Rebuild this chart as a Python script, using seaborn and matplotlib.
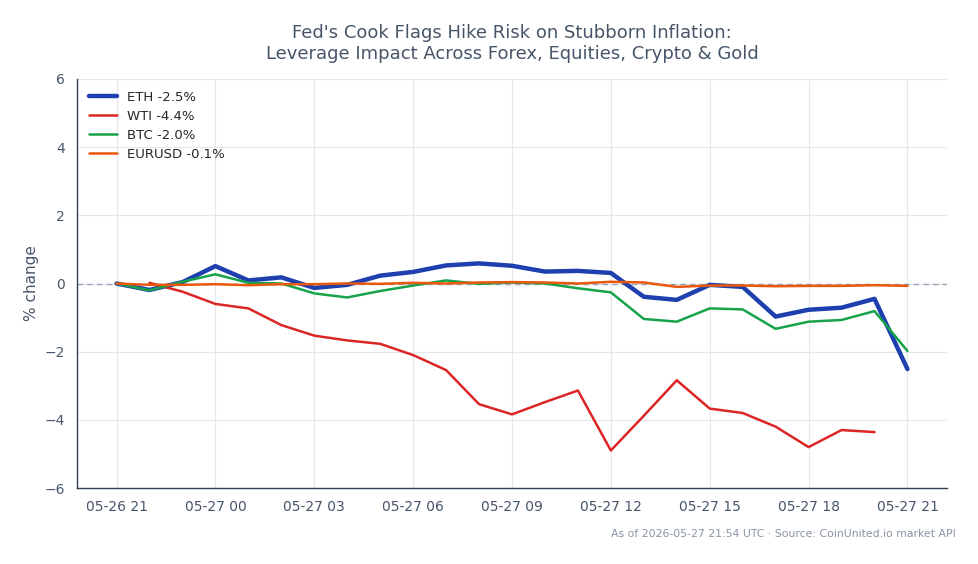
import numpy as np
import pandas as pd
import matplotlib
matplotlib.use("Agg")
import matplotlib.pyplot as plt
import matplotlib.dates as mdates
import seaborn as sns

times = pd.date_range("2026-05-26 21:00", "2026-05-27 21:00", freq="h")

eth = [0.0, -0.19, 0.04, 0.51, 0.09, 0.18, -0.13, -0.04, 0.23, 0.34, 0.53, 0.59,
       0.52, 0.35, 0.37, 0.31, -0.39, -0.48, -0.04, -0.10, -0.97, -0.77, -0.71, -0.45, -2.51]
wti = [np.nan, 0.02, -0.24, -0.60, -0.73, -1.22, -1.53, -1.67, -1.77, -2.10, -2.54, -3.54,
       -3.84, -3.48, -3.14, -4.90, -3.88, -2.84, -3.67, -3.80, -4.20, -4.80, -4.30, -4.36, np.nan]
btc = [0.0, -0.20, 0.05, 0.27, 0.02, 0.0, -0.29, -0.41, -0.22, -0.06, 0.09, -0.01,
       0.03, 0.0, -0.14, -0.26, -1.04, -1.12, -0.73, -0.76, -1.33, -1.12, -1.07, -0.81, -1.98]
eurusd = [0.0, -0.04, -0.04, -0.02, -0.05, -0.02, -0.02, 0.0, -0.01, 0.02, 0.0, 0.03,
          0.04, 0.03, 0.0, 0.05, 0.03, -0.10, -0.06, -0.06, -0.08, -0.07, -0.07, -0.05, -0.07]

series = [
    ("ETH -2.5%", eth, "#1e40af", 3.2),
    ("WTI -4.4%", wti, "#dc2626", 1.8),
    ("BTC -2.0%", btc, "#16a34a", 1.8),
    ("EURUSD -0.1%", eurusd, "#ea580c", 1.8),
]

sns.set_style("white")
plt.rcParams["font.family"] = ["DejaVu Sans"]

fig = plt.figure(figsize=(9.79, 5.64), dpi=100)
ax = fig.add_axes([77 / 979, 1 - 488 / 564, (947 - 77) / 979, (488 - 79) / 564])

text_color = "#475569"
ax.axhline(0, color="#94a3b8", lw=1.0, ls=(0, (4, 3)), zorder=1)

for label, vals, color, lw in series:
    df = pd.DataFrame({"t": times, "v": vals})
    sns.lineplot(data=df, x="t", y="v", ax=ax, color=color, lw=lw, label=label, zorder=3)

ax.set_ylim(-6, 6)
ax.set_yticks([-6, -4, -2, 0, 2, 4, 6])
ax.set_yticklabels(["\u22126", "\u22124", "\u22122", "0", "2", "4", "6"])
pad = pd.Timedelta(hours=1.2)
ax.set_xlim(times[0] - pad, times[-1] + pad)
ax.xaxis.set_major_locator(mdates.HourLocator(byhour=range(0, 24, 3)))
ax.xaxis.set_major_formatter(mdates.DateFormatter("%m-%d %H"))

ax.grid(True, color="#e5e7eb", lw=0.8)
ax.set_axisbelow(True)
for s in ["top", "right"]:
    ax.spines[s].set_visible(False)
for s in ["left", "bottom"]:
    ax.spines[s].set_color("#334155")
    ax.spines[s].set_linewidth(1.0)
ax.tick_params(axis="both", colors="#334155", labelcolor=text_color, labelsize=10,
               length=5, width=1, direction="out")
ax.set_xlabel("")
ax.set_ylabel("% change", color=text_color, fontsize=11)

leg = ax.legend(loc="upper left", frameon=False, fontsize=9.5, handlelength=2.1,
                handletextpad=0.8, borderaxespad=0.5, labelspacing=0.45)

fig.suptitle("Fed's Cook Flags Hike Risk on Stubborn Inflation:\nLeverage Impact Across Forex, Equities, Crypto & Gold",
             x=0.523, y=0.958, fontsize=13, color=text_color, linespacing=1.25)
fig.text(0.976, 0.045, "As of 2026-05-27 21:54 UTC \u00b7 Source: CoinUnited.io market API",
         ha="right", va="bottom", fontsize=7.8, color="#8a94a6")

fig.savefig("out.png", dpi=100)
